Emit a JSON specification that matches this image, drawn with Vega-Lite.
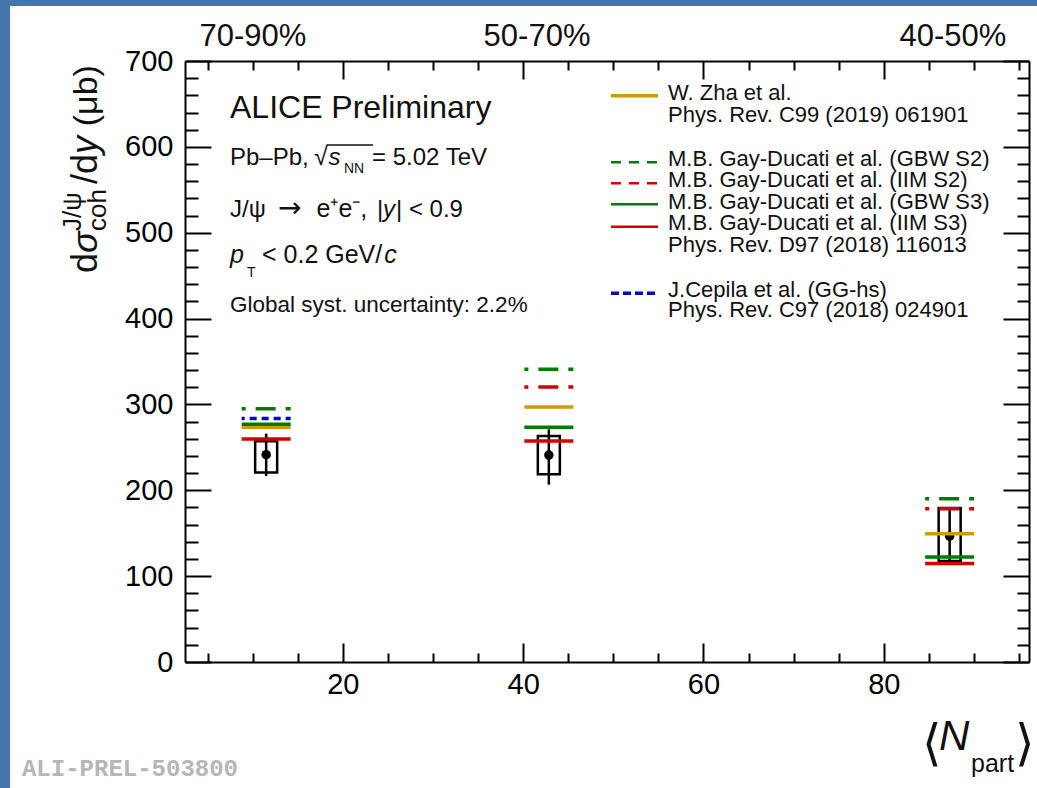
{
  "$schema": "https://vega.github.io/schema/vega-lite/v6.json",
  "width": 844,
  "height": 601,
  "autosize": "none",
  "padding": {"left": 185, "top": 61, "right": 8, "bottom": 126},
  "background": "#4675ae",
  "config": {
    "view": {"stroke": null, "fill": null},
    "axis": {"grid": false, "domainColor": "#000", "tickColor": "#000", "labelColor": "#000", "labelFont": "Liberation Sans", "domainWidth": 2, "tickWidth": 2, "labelFlush": false, "labelOverlap": false, "title": null},
    "text": {"font": "Liberation Sans", "color": "#111"}
  },
  "datasets": {
    "measured": [
      {"centrality": "70-90%", "npart": 11.5, "xsec": 241.5, "stat_lo": 216.6, "stat_hi": 266.0, "syst_lo": 220.6, "syst_hi": 257.0},
      {"centrality": "50-70%", "npart": 42.85, "xsec": 241.0, "stat_lo": 206.6, "stat_hi": 271.0, "syst_lo": 218.6, "syst_hi": 263.2},
      {"centrality": "40-50%", "npart": 87.3, "xsec": 146.5, "stat_lo": 117.0, "stat_hi": 179.0, "syst_lo": 117.7, "syst_hi": 179.4}
    ],
    "models": [
      {"npart": 11.5, "model": "GBW S2", "xsec": 295.1},
      {"npart": 11.5, "model": "GG-hs", "xsec": 283.5},
      {"npart": 11.5, "model": "Zha", "xsec": 273.4},
      {"npart": 11.5, "model": "GBW S3", "xsec": 276.9},
      {"npart": 11.5, "model": "IIM S3", "xsec": 259.7},
      {"npart": 42.85, "model": "GBW S2", "xsec": 341.0},
      {"npart": 42.85, "model": "IIM S2", "xsec": 320.3},
      {"npart": 42.85, "model": "Zha", "xsec": 297.0},
      {"npart": 42.85, "model": "GBW S3", "xsec": 273.4},
      {"npart": 42.85, "model": "IIM S3", "xsec": 257.4},
      {"npart": 87.3, "model": "GBW S2", "xsec": 190.2},
      {"npart": 87.3, "model": "IIM S2", "xsec": 178.5},
      {"npart": 87.3, "model": "Zha", "xsec": 149.5},
      {"npart": 87.3, "model": "GBW S3", "xsec": 122.3},
      {"npart": 87.3, "model": "IIM S3", "xsec": 114.6}
    ]
  },
  "layer": [
    {
      "data": {"values": [{}]},
      "mark": {"type": "rect", "fill": "#ffffff"},
      "encoding": {
        "x": {"datum": -16.9, "type": "quantitative", "scale": {"domain": [2.5, 96.1], "nice": false, "zero": false},
              "axis": {"orient": "bottom", "values": [20, 40, 60, 80], "ticks": false, "domain": true, "labelFontSize": 29, "labelPadding": 8, "zindex": 2}},
        "x2": {"datum": 99},
        "y": {"datum": 764, "type": "quantitative", "scale": {"domain": [0, 700], "nice": false, "zero": false},
              "axis": {"orient": "left", "values": [0, 100, 200, 300, 400, 500, 600, 700], "ticks": false, "domain": true, "labelFontSize": 29, "labelPadding": 12, "zindex": 2}},
        "y2": {"datum": -160}
      }
    },
    {
      "data": {"values": [{}]},
      "mark": {"type": "text", "text": "70-90%", "align": "center", "baseline": "alphabetic", "fontSize": 31},
      "encoding": {"x": {"datum": 10.04, "type": "quantitative", "axis": null}, "y": {"datum": 717.4, "type": "quantitative", "axis": null}}
    },
    {
      "data": {"values": [{}]},
      "mark": {"type": "text", "text": "50-70%", "align": "center", "baseline": "alphabetic", "fontSize": 31},
      "encoding": {"x": {"datum": 41.54, "type": "quantitative", "axis": null}, "y": {"datum": 717.4, "type": "quantitative", "axis": null}}
    },
    {
      "data": {"values": [{}]},
      "mark": {"type": "text", "text": "40-50%", "align": "center", "baseline": "alphabetic", "fontSize": 31},
      "encoding": {"x": {"datum": 87.67, "type": "quantitative", "axis": null}, "y": {"datum": 717.4, "type": "quantitative", "axis": null}}
    },
    {
      "data": {"values": [{}]},
      "mark": {"type": "text", "text": "d", "align": "left", "baseline": "alphabetic", "fontSize": 36, "angle": 270},
      "encoding": {"x": {"datum": -7.26, "type": "quantitative", "axis": null}, "y": {"datum": 453.1, "type": "quantitative", "axis": null}}
    },
    {
      "data": {"values": [{}]},
      "mark": {"type": "text", "text": "σ", "align": "left", "baseline": "alphabetic", "fontSize": 36, "fontStyle": "italic", "angle": 270},
      "encoding": {"x": {"datum": -7.26, "type": "quantitative", "axis": null}, "y": {"datum": 476.4, "type": "quantitative", "axis": null}}
    },
    {
      "data": {"values": [{}]},
      "mark": {"type": "text", "text": "J/ψ", "align": "left", "baseline": "alphabetic", "fontSize": 26, "angle": 270},
      "encoding": {"x": {"datum": -9.03, "type": "quantitative", "axis": null}, "y": {"datum": 502.0, "type": "quantitative", "axis": null}}
    },
    {
      "data": {"values": [{}]},
      "mark": {"type": "text", "text": "coh", "align": "left", "baseline": "alphabetic", "fontSize": 26, "angle": 270},
      "encoding": {"x": {"datum": -6.26, "type": "quantitative", "axis": null}, "y": {"datum": 502.0, "type": "quantitative", "axis": null}}
    },
    {
      "data": {"values": [{}]},
      "mark": {"type": "text", "text": "/d", "align": "left", "baseline": "alphabetic", "fontSize": 36, "angle": 270},
      "encoding": {"x": {"datum": -7.26, "type": "quantitative", "axis": null}, "y": {"datum": 556.7, "type": "quantitative", "axis": null}}
    },
    {
      "data": {"values": [{}]},
      "mark": {"type": "text", "text": "y", "align": "left", "baseline": "alphabetic", "fontSize": 36, "fontStyle": "italic", "angle": 270},
      "encoding": {"x": {"datum": -7.26, "type": "quantitative", "axis": null}, "y": {"datum": 591.6, "type": "quantitative", "axis": null}}
    },
    {
      "data": {"values": [{}]},
      "mark": {"type": "text", "text": "(μb)", "align": "left", "baseline": "alphabetic", "fontSize": 34, "angle": 270},
      "encoding": {"x": {"datum": -7.26, "type": "quantitative", "axis": null}, "y": {"datum": 624.0, "type": "quantitative", "axis": null}}
    },
    {
      "data": {"values": [{}]},
      "mark": {"type": "text", "text": "⟨", "align": "left", "baseline": "alphabetic", "fontSize": 50, "font": "DejaVu Sans", "fontWeight": 200},
      "encoding": {"x": {"datum": 84.23, "type": "quantitative", "axis": null}, "y": {"datum": -114.1, "type": "quantitative", "axis": null}}
    },
    {
      "data": {"values": [{}]},
      "mark": {"type": "text", "text": "N", "align": "left", "baseline": "alphabetic", "fontSize": 42, "fontStyle": "italic"},
      "encoding": {"x": {"datum": 86.12, "type": "quantitative", "axis": null}, "y": {"datum": -102.5, "type": "quantitative", "axis": null}}
    },
    {
      "data": {"values": [{}]},
      "mark": {"type": "text", "text": "part", "align": "left", "baseline": "alphabetic", "fontSize": 25},
      "encoding": {"x": {"datum": 89.67, "type": "quantitative", "axis": null}, "y": {"datum": -128.1, "type": "quantitative", "axis": null}}
    },
    {
      "data": {"values": [{}]},
      "mark": {"type": "text", "text": "⟩", "align": "left", "baseline": "alphabetic", "fontSize": 50, "font": "DejaVu Sans", "fontWeight": 200},
      "encoding": {"x": {"datum": 94.55, "type": "quantitative", "axis": null}, "y": {"datum": -114.1, "type": "quantitative", "axis": null}}
    },
    {
      "data": {"values": [{}]},
      "mark": {"type": "text", "text": "ALI-PREL-503800", "align": "left", "baseline": "alphabetic", "fontSize": 24, "font": "Liberation Mono", "fontWeight": "bold", "color": "#b6b6b6"},
      "encoding": {"x": {"datum": -15.58, "type": "quantitative", "axis": null}, "y": {"datum": -132.8, "type": "quantitative", "axis": null}}
    },
    {
      "data": {"values": [{}]},
      "mark": {"type": "text", "text": "ALICE Preliminary", "align": "left", "baseline": "alphabetic", "fontSize": 32},
      "encoding": {"x": {"datum": 7.49, "type": "quantitative", "axis": null}, "y": {"datum": 633.6, "type": "quantitative", "axis": null}}
    },
    {
      "data": {"values": [{}]},
      "mark": {"type": "text", "text": "Pb–Pb,", "align": "left", "baseline": "alphabetic", "fontSize": 24},
      "encoding": {"x": {"datum": 7.49, "type": "quantitative", "axis": null}, "y": {"datum": 578.9, "type": "quantitative", "axis": null}}
    },
    {
      "data": {"values": [{}]},
      "mark": {"type": "text", "text": "√", "align": "left", "baseline": "alphabetic", "fontSize": 25},
      "encoding": {"x": {"datum": 16.81, "type": "quantitative", "axis": null}, "y": {"datum": 578.9, "type": "quantitative", "axis": null}}
    },
    {
      "data": {"values": [{}]},
      "mark": {"type": "rule", "color": "#111", "strokeWidth": 1.5},
      "encoding": {"x": {"datum": 18.2, "type": "quantitative", "axis": null}, "x2": {"datum": 23.35}, "y": {"datum": 602.1, "type": "quantitative", "axis": null}}
    },
    {
      "data": {"values": [{}]},
      "mark": {"type": "text", "text": "s", "align": "left", "baseline": "alphabetic", "fontSize": 24, "fontStyle": "italic"},
      "encoding": {"x": {"datum": 18.42, "type": "quantitative", "axis": null}, "y": {"datum": 578.9, "type": "quantitative", "axis": null}}
    },
    {
      "data": {"values": [{}]},
      "mark": {"type": "text", "text": "NN", "align": "left", "baseline": "alphabetic", "fontSize": 14},
      "encoding": {"x": {"datum": 20.13, "type": "quantitative", "axis": null}, "y": {"datum": 569.5, "type": "quantitative", "axis": null}}
    },
    {
      "data": {"values": [{}]},
      "mark": {"type": "text", "text": "= 5.02 TeV", "align": "left", "baseline": "alphabetic", "fontSize": 24},
      "encoding": {"x": {"datum": 23.24, "type": "quantitative", "axis": null}, "y": {"datum": 578.9, "type": "quantitative", "axis": null}}
    },
    {
      "data": {"values": [{}]},
      "mark": {"type": "text", "text": "J/ψ", "align": "left", "baseline": "alphabetic", "fontSize": 24},
      "encoding": {"x": {"datum": 7.49, "type": "quantitative", "axis": null}, "y": {"datum": 518.6, "type": "quantitative", "axis": null}}
    },
    {
      "data": {"values": [{}]},
      "mark": {"type": "text", "text": "→", "align": "left", "baseline": "alphabetic", "fontSize": 28, "font": "DejaVu Sans"},
      "encoding": {"x": {"datum": 12.82, "type": "quantitative", "axis": null}, "y": {"datum": 518.6, "type": "quantitative", "axis": null}}
    },
    {
      "data": {"values": [{}]},
      "mark": {"type": "text", "text": "e⁺e⁻,", "align": "left", "baseline": "alphabetic", "fontSize": 25},
      "encoding": {"x": {"datum": 17.09, "type": "quantitative", "axis": null}, "y": {"datum": 518.6, "type": "quantitative", "axis": null}}
    },
    {
      "data": {"values": [{}]},
      "mark": {"type": "text", "text": "|", "align": "left", "baseline": "alphabetic", "fontSize": 24},
      "encoding": {"x": {"datum": 23.79, "type": "quantitative", "axis": null}, "y": {"datum": 518.6, "type": "quantitative", "axis": null}}
    },
    {
      "data": {"values": [{}]},
      "mark": {"type": "text", "text": "y", "align": "left", "baseline": "alphabetic", "fontSize": 24, "fontStyle": "italic"},
      "encoding": {"x": {"datum": 24.46, "type": "quantitative", "axis": null}, "y": {"datum": 518.6, "type": "quantitative", "axis": null}}
    },
    {
      "data": {"values": [{}]},
      "mark": {"type": "text", "text": "| < 0.9", "align": "left", "baseline": "alphabetic", "fontSize": 24},
      "encoding": {"x": {"datum": 25.9, "type": "quantitative", "axis": null}, "y": {"datum": 518.6, "type": "quantitative", "axis": null}}
    },
    {
      "data": {"values": [{}]},
      "mark": {"type": "text", "text": "p", "align": "left", "baseline": "alphabetic", "fontSize": 25, "fontStyle": "italic"},
      "encoding": {"x": {"datum": 7.49, "type": "quantitative", "axis": null}, "y": {"datum": 464.7, "type": "quantitative", "axis": null}}
    },
    {
      "data": {"values": [{}]},
      "mark": {"type": "text", "text": "T", "align": "left", "baseline": "alphabetic", "fontSize": 14},
      "encoding": {"x": {"datum": 9.38, "type": "quantitative", "axis": null}, "y": {"datum": 448.4, "type": "quantitative", "axis": null}}
    },
    {
      "data": {"values": [{}]},
      "mark": {"type": "text", "text": "< 0.2 GeV/", "align": "left", "baseline": "alphabetic", "fontSize": 25},
      "encoding": {"x": {"datum": 11.04, "type": "quantitative", "axis": null}, "y": {"datum": 464.7, "type": "quantitative", "axis": null}}
    },
    {
      "data": {"values": [{}]},
      "mark": {"type": "text", "text": "c", "align": "left", "baseline": "alphabetic", "fontSize": 25, "fontStyle": "italic"},
      "encoding": {"x": {"datum": 24.6, "type": "quantitative", "axis": null}, "y": {"datum": 464.7, "type": "quantitative", "axis": null}}
    },
    {
      "data": {"values": [{}]},
      "mark": {"type": "text", "text": "Global syst. uncertainty: 2.2%", "align": "left", "baseline": "alphabetic", "fontSize": 22.5},
      "encoding": {"x": {"datum": 7.49, "type": "quantitative", "axis": null}, "y": {"datum": 408.0, "type": "quantitative", "axis": null}}
    },
    {
      "data": {"name": "measured"},
      "mark": {"type": "rect", "fill": null, "stroke": "#000", "strokeWidth": 2.5, "xOffset": -11, "x2Offset": 11},
      "encoding": {
        "x": {"field": "npart", "type": "quantitative", "scale": {"domain": [2.5, 96.1], "nice": false, "zero": false},
              "axis": {"orient": "bottom", "values": [20, 40, 60, 80], "labels": false, "domain": false, "ticks": true, "tickSize": -19, "zindex": 2}},
        "x2": {"field": "npart"},
        "y": {"field": "syst_lo", "type": "quantitative", "scale": {"domain": [0, 700], "nice": false, "zero": false},
              "axis": {"orient": "left", "values": [0, 100, 200, 300, 400, 500, 600, 700], "labels": false, "domain": false, "ticks": true, "tickSize": -26, "zindex": 2}},
        "y2": {"field": "syst_hi"}
      }
    },
    {
      "data": {"name": "measured"},
      "mark": {"type": "rule", "color": "#000", "strokeWidth": 2.5},
      "encoding": {
        "x": {"field": "npart", "type": "quantitative",
              "axis": {"orient": "bottom", "values": [5, 10, 15, 25, 30, 35, 45, 50, 55, 65, 70, 75, 85, 90, 95], "labels": false, "domain": false, "ticks": true, "tickSize": -9, "zindex": 2}},
        "y": {"field": "stat_lo", "type": "quantitative",
              "axis": {"orient": "left", "values": [20, 40, 60, 80, 120, 140, 160, 180, 220, 240, 260, 280, 320, 340, 360, 380, 420, 440, 460, 480, 520, 540, 560, 580, 620, 640, 660, 680], "labels": false, "domain": false, "ticks": true, "tickSize": -13, "zindex": 2}},
        "y2": {"field": "stat_hi"}
      }
    },
    {
      "data": {"name": "measured"},
      "mark": {"type": "point", "shape": "circle", "filled": true, "color": "#000", "opacity": 1, "size": 90},
      "encoding": {
        "x": {"field": "npart", "type": "quantitative",
              "axis": {"orient": "top", "values": [20, 40, 60, 80], "labels": false, "domain": true, "ticks": true, "tickSize": -18, "zindex": 2}},
        "y": {"field": "xsec", "type": "quantitative",
              "axis": {"orient": "right", "values": [0, 100, 200, 300, 400, 500, 600, 700], "labels": false, "domain": true, "ticks": true, "tickSize": -26, "zindex": 2}}
      }
    },
    {
      "data": {"name": "models"},
      "mark": {"type": "rule", "strokeWidth": 3.5, "xOffset": -24.5, "x2Offset": 24.5, "strokeDashOffset": 16},
      "encoding": {
        "x": {"field": "npart", "type": "quantitative",
              "axis": {"orient": "top", "values": [5, 10, 15, 25, 30, 35, 45, 50, 55, 65, 70, 75, 85, 90, 95], "labels": false, "domain": false, "ticks": true, "tickSize": -9, "zindex": 2}},
        "x2": {"field": "npart"},
        "y": {"field": "xsec", "type": "quantitative",
              "axis": {"orient": "right", "values": [20, 40, 60, 80, 120, 140, 160, 180, 220, 240, 260, 280, 320, 340, 360, 380, 420, 440, 460, 480, 520, 540, 560, 580, 620, 640, 660, 680], "labels": false, "domain": false, "ticks": true, "tickSize": -12, "zindex": 2}},
        "color": {"field": "model", "type": "nominal", "legend": null,
                  "scale": {"domain": ["Zha", "GBW S2", "IIM S2", "GBW S3", "IIM S3", "GG-hs"], "range": ["#cc9c0a", "#007a00", "#d40000", "#007a00", "#d40000", "#0000cc"]}},
        "strokeDash": {"field": "model", "type": "nominal", "legend": null,
                       "scale": {"domain": ["Zha", "GBW S2", "IIM S2", "GBW S3", "IIM S3", "GG-hs"], "range": [[1, 0], [20, 10], [20, 10], [1, 0], [1, 0], [7, 5]]}}
      }
    },
    {
      "data": {"values": [{}]},
      "mark": {"type": "rule", "color": "#cc9c0a", "strokeWidth": 3.5},
      "encoding": {"x": {"datum": 49.74, "type": "quantitative", "axis": null}, "x2": {"datum": 54.96}, "y": {"datum": 659.6, "type": "quantitative", "axis": null}}
    },
    {
      "data": {"values": [{}]},
      "mark": {"type": "rule", "color": "#007a00", "strokeWidth": 2.5, "strokeDash": [10, 8]},
      "encoding": {"x": {"datum": 49.74, "type": "quantitative", "axis": null}, "x2": {"datum": 54.96}, "y": {"datum": 582.0, "type": "quantitative", "axis": null}}
    },
    {
      "data": {"values": [{}]},
      "mark": {"type": "rule", "color": "#d40000", "strokeWidth": 2.5, "strokeDash": [10, 8]},
      "encoding": {"x": {"datum": 49.74, "type": "quantitative", "axis": null}, "x2": {"datum": 54.96}, "y": {"datum": 557.5, "type": "quantitative", "axis": null}}
    },
    {
      "data": {"values": [{}]},
      "mark": {"type": "rule", "color": "#007a00", "strokeWidth": 2.5},
      "encoding": {"x": {"datum": 49.74, "type": "quantitative", "axis": null}, "x2": {"datum": 54.96}, "y": {"datum": 533.1, "type": "quantitative", "axis": null}}
    },
    {
      "data": {"values": [{}]},
      "mark": {"type": "rule", "color": "#d40000", "strokeWidth": 2.5},
      "encoding": {"x": {"datum": 49.74, "type": "quantitative", "axis": null}, "x2": {"datum": 54.96}, "y": {"datum": 507.0, "type": "quantitative", "axis": null}}
    },
    {
      "data": {"values": [{}]},
      "mark": {"type": "rule", "color": "#0000cc", "strokeWidth": 3.5, "strokeDash": [8, 4]},
      "encoding": {"x": {"datum": 49.74, "type": "quantitative", "axis": null}, "x2": {"datum": 54.96}, "y": {"datum": 429.4, "type": "quantitative", "axis": null}}
    },
    {
      "data": {"values": [{}]},
      "mark": {"type": "text", "text": ["W. Zha et al.", "Phys. Rev. C99 (2019) 061901"], "lineHeight": 21.7, "align": "left", "baseline": "alphabetic", "fontSize": 22},
      "encoding": {"x": {"datum": 56.07, "type": "quantitative", "axis": null}, "y": {"datum": 654.6, "type": "quantitative", "axis": null}}
    },
    {
      "data": {"values": [{}]},
      "mark": {"type": "text", "text": ["M.B. Gay-Ducati et al. (GBW S2)", "M.B. Gay-Ducati et al. (IIM S2)", "M.B. Gay-Ducati et al. (GBW S3)", "M.B. Gay-Ducati et al. (IIM S3)", "Phys. Rev. D97 (2018) 116013"], "lineHeight": 21.5, "align": "left", "baseline": "alphabetic", "fontSize": 22},
      "encoding": {"x": {"datum": 56.07, "type": "quantitative", "axis": null}, "y": {"datum": 578.0, "type": "quantitative", "axis": null}}
    },
    {
      "data": {"values": [{}]},
      "mark": {"type": "text", "text": ["J.Cepila et al. (GG-hs)", "Phys. Rev. C97 (2018) 024901"], "lineHeight": 20, "align": "left", "baseline": "alphabetic", "fontSize": 22},
      "encoding": {"x": {"datum": 56.07, "type": "quantitative", "axis": null}, "y": {"datum": 425.5, "type": "quantitative", "axis": null}}
    }
  ],
  "resolve": {"axis": {"x": "independent", "y": "independent"}}
}
